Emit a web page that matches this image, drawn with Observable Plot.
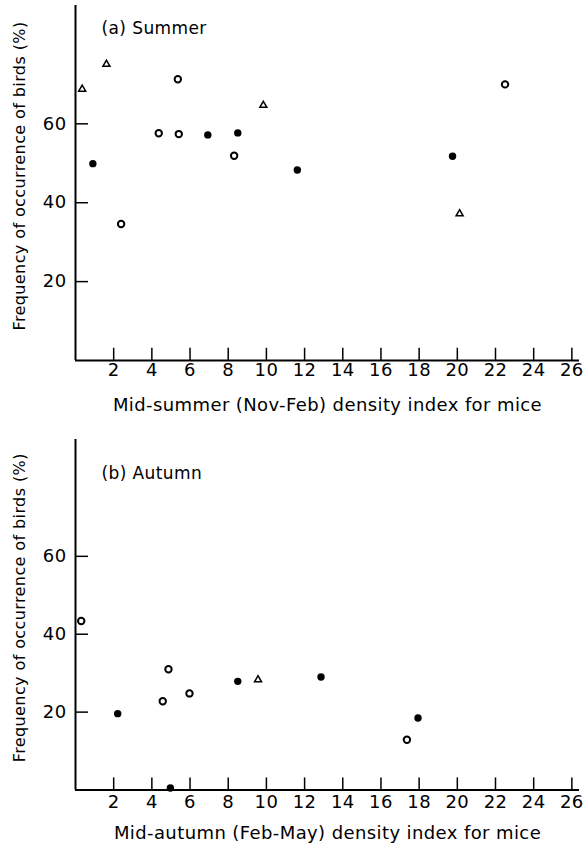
<!DOCTYPE html>
<html>
<head>
<meta charset="utf-8">
<script src="https://cdn.jsdelivr.net/npm/d3@7"></script>
<script src="https://cdn.jsdelivr.net/npm/@observablehq/plot@0.6"></script>
<style>
  body { margin: 0; background: #fff; }
  #chart svg { display: block; }
</style>
</head>
<body>
<div id="chart"></div>
<script>
// ---- tick labels ----
const xTicks = [2, 4, 6, 8, 10, 12, 14, 16, 18, 20, 22, 24, 26];
const yTicks = [20, 40, 60];

// ---- text ----
const yLabel = "Frequency of occurrence of birds (%)";
const summerTitle = "(a) Summer";
const autumnTitle = "(b) Autumn";
const summerXLabel = "Mid-summer (Nov-Feb) density index for mice";
const autumnXLabel = "Mid-autumn (Feb-May) density index for mice";

// ---- (a) Summer ----
const summerFilledX = [0.91, 6.93, 8.5, 11.62, 19.75];
const summerFilledY = [49.9, 57.2, 57.7, 48.3, 51.8];
const summerOpenX = [2.39, 4.36, 5.41, 5.36, 8.31, 22.5];
const summerOpenY = [34.6, 57.6, 57.4, 71.3, 51.9, 70.0];
const summerTriX = [0.35, 1.62, 9.84, 20.12];
const summerTriY = [68.8, 75.1, 64.7, 37.2];

// ---- (b) Autumn ----
const autumnFilledX = [2.21, 4.97, 8.5, 12.86, 17.94];
const autumnFilledY = [19.6, 0.5, 27.9, 29.0, 18.5];
const autumnOpenX = [0.3, 4.57, 4.87, 5.97, 17.36];
const autumnOpenY = [43.4, 22.8, 31.0, 24.8, 12.9];
const autumnTriX = [9.56];
const autumnTriY = [28.3];

const zip = (xs, ys) => xs.map((x, i) => ({x, y: ys[i]}));

const FONT = "DejaVu Sans";

function panel({title, xLabel, filled, open, tri, height, marginTop, marginBottom, titleDy, xLabelDy, tickPad}) {
  return Plot.plot({
    width: 584,
    height,
    marginLeft: 75,
    marginRight: 5,
    marginTop,
    marginBottom,
    x: {domain: [0, 26.4]},
    y: {domain: [0, 90]},
    style: {fontFamily: FONT, fontSize: "17px", color: "#000", background: "#fff", letterSpacing: "0.4px"},
    marks: [
      Plot.ruleX([0], {y1: 0, y2: 90, stroke: "#000", strokeWidth: 2}),
      Plot.ruleY([0], {x1: 0, x2: 26.4, stroke: "#000", strokeWidth: 2}),
      Plot.ruleX(xTicks, {x: d => d, y1: 0, y2: 3.1, stroke: "#000", strokeWidth: 1.5}),
      Plot.ruleY(yTicks, {y: d => d, x1: 0, x2: 0.68, stroke: "#000", strokeWidth: 1.5}),
      Plot.axisX({ticks: xTicks, tickSize: 0, tickPadding: tickPad, label: null, fontSize: 18, fill: "#000"}),
      Plot.axisY({ticks: yTicks, tickSize: 0, tickPadding: 9, label: null, fontSize: 18, fill: "#000"}),
      Plot.dot(filled, {x: "x", y: "y", r: 3.7, fill: "#000", stroke: "none"}),
      Plot.dot(open, {x: "x", y: "y", r: 3.2, fill: "#fff", stroke: "#000", strokeWidth: 2}),
      Plot.dot(tri, {x: "x", y: "y", symbol: "triangle", r: 2.6, fill: "#fff", stroke: "#000", strokeWidth: 1.5}),
      Plot.text([title], {text: d => d, frameAnchor: "top-left", dx: 26, dy: titleDy, textAnchor: "start", lineAnchor: "middle", fontSize: 17, fill: "#000"}),
      Plot.text([xLabel], {text: d => d, frameAnchor: "bottom", dy: xLabelDy, textAnchor: "middle", lineAnchor: "middle", fontSize: 18, fill: "#000"}),
      Plot.text([yLabel], {text: d => d, frameAnchor: "left", rotate: -90, dx: -56, dy: -7, textAnchor: "middle", lineAnchor: "middle", fontSize: 16, fill: "#000"})
    ]
  });
}

const chart = document.getElementById("chart");
chart.append(panel({
  title: summerTitle, xLabel: summerXLabel,
  filled: zip(summerFilledX, summerFilledY),
  open: zip(summerOpenX, summerOpenY),
  tri: zip(summerTriX, summerTriY),
  height: 430, marginTop: 5, marginBottom: 70, titleDy: 23, xLabelDy: 45, tickPad: 3
}));
chart.append(panel({
  title: autumnTitle, xLabel: autumnXLabel,
  filled: zip(autumnFilledX, autumnFilledY),
  open: zip(autumnOpenX, autumnOpenY),
  tri: zip(autumnTriX, autumnTriY),
  height: 420, marginTop: 9, marginBottom: 60.5, titleDy: 34, xLabelDy: 43, tickPad: 5
}));
</script>
</body>
</html>
